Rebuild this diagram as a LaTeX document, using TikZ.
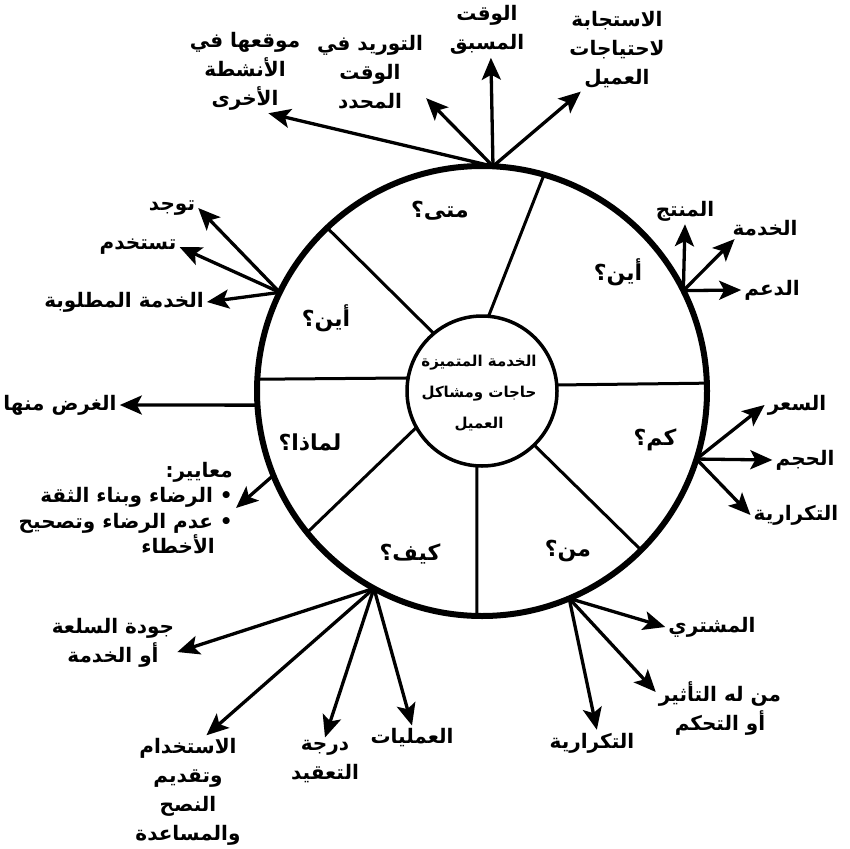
\documentclass[tikz,border=0pt]{standalone}
\usepackage{fontspec}
\usetikzlibrary{arrows.meta}
\newfontfamily\arabicfont[Script=Arabic]{DejaVu Sans}
\TeXXeTstate=1
\newcommand{\arline}[1]{\beginR #1\endR}

\begin{document}
\begin{tikzpicture}[x=1pt, y=-1pt,
    fletxa/.style={line width=3.3pt, -{Stealth[length=22pt, width=19pt, inset=5pt]}},
    etiq/.style={font=\arabicfont\bfseries\fontsize{20}{29}\selectfont, align=center, inner sep=3pt},
    pregunta/.style={font=\arabicfont\bfseries\fontsize{22}{24}\selectfont, inner sep=1pt}]
    \useasboundingbox (0,0) rectangle (850,848);
    % Cercles i radis
    \coordinate (c) at (482,391);
    \draw[line width=6pt] (c) circle[radius=225];
    \draw[line width=3.5pt] (c) circle[radius=75];
    \begin{scope}[shift={(c)}, line width=3pt]
        \draw (-85:75) -- (-74:225);
        \draw (-130:75) -- (-133.5:225);
        \draw (-170:75) -- (-177:225);
        \draw (-4.6:75) -- (-2:225);
        \draw (151:75) -- (141:225);
        \draw (94:75) -- (91.3:225);
        \draw (46:75) -- (45:225);
        % punts de sortida de les fletxes
        \coordinate (pMata) at (-87.2:225);
        \coordinate (pAynaR) at (-26.5:225);
        \coordinate (pKam) at (17.6:225);
        \coordinate (pMan) at (67.2:225);
        \coordinate (pKayfa) at (118.7:225);
        \coordinate (pLimadhaB) at (158:225);
        \coordinate (pLimadhaA) at (176.4:225);
        \coordinate (pAynaL) at (-154:225);
    \end{scope}

    % Centre i sectors
    \node[etiq, font=\arabicfont\bfseries\fontsize{15}{31}\selectfont] (centre) at (479,393)
        {\arline{الخدمة المتميزة}\\\arline{حاجات ومشاكل}\\\arline{العميل}};
    \node[pregunta] (sMata) at (440,211) {\arline{متى؟}};
    \node[pregunta] (sAynaR) at (618,272) {\arline{أين؟}};
    \node[pregunta] (sAynaL) at (326,318) {\arline{أين؟}};
    \node[pregunta] (sLimadha) at (310,442) {\arline{لماذا؟}};
    \node[pregunta] (sKayfa) at (410,554) {\arline{كيف؟}};
    \node[pregunta] (sMan) at (568,551) {\arline{من؟}};
    \node[pregunta] (sKam) at (655,440) {\arline{كم؟}};

    % Etiquetes exteriors
    \node[etiq] (tMawqi) at (245,71) {\arline{موقعها في}\\\arline{الأنشطة}\\\arline{الأخرى}};
    \node[etiq] (tTawrid) at (370,72) {\arline{التوريد في}\\\arline{الوقت}\\\arline{المحدد}};
    \node[etiq] (tMusbaq) at (487,30) {\arline{الوقت}\\\arline{المسبق}};
    \node[etiq] (tIstijaba) at (617,50) {\arline{الاستجابة}\\\arline{لاحتياجات}\\\arline{العميل}};
    \node[etiq] (tMuntaj) at (685,211) {\arline{المنتج}};
    \node[etiq] (tKhidma) at (765,228) {\arline{الخدمة}};
    \node[etiq] (tDaam) at (772,290) {\arline{الدعم}};
    \node[etiq] (tSiar) at (797,405) {\arline{السعر}};
    \node[etiq] (tHajm) at (805,460) {\arline{الحجم}};
    \node[etiq] (tTikrar) at (796,515) {\arline{التكرارية}};
    \node[etiq] (tMushtari) at (712,627) {\arline{المشتري}};
    \node[etiq] (tTathir) at (720,708) {\arline{من له التأثير}\\\arline{أو التحكم}};
    \node[etiq] (tTikrarB) at (592,743) {\arline{التكرارية}};
    \node[etiq] (tAmaliyat) at (412,738) {\arline{العمليات}};
    \node[etiq] (tDaraja) at (325,762) {\arline{درجة}\\\arline{التعقيد}};
    \node[etiq] (tIstikhdam) at (188,792) {\arline{الاستخدام}\\\arline{وتقديم}\\\arline{النصح}\\\arline{والمساعدة}};
    \node[etiq] (tJawda) at (113,643) {\arline{جودة السلعة}\\\arline{أو الخدمة}};
    \node[etiq, align=right, anchor=east, font=\arabicfont\bfseries\fontsize{20}{25.5}\selectfont] (tMaayir) at (236,508)
        {\arline{معايير:}\\\arline{• الرضاء وبناء الثقة}\\\arline{• عدم الرضاء وتصحيح}\\\arline{\hspace{18pt}الأخطاء}};
    \node[etiq] (tGharad) at (60,405) {\arline{الغرض منها}};
    \node[etiq] (tMatluba) at (124,302) {\arline{الخدمة المطلوبة}};
    \node[etiq] (tTastakhdim) at (138,247) {\arline{تستخدم}};
    \node[etiq] (tTujad) at (172,208) {\arline{توجد}};

    % Fletxes
    \draw[fletxa] (pMata) -- (tMawqi.-61);
    \draw[fletxa] (pMata) -- (tTawrid.-25);
    \draw[fletxa] (pMata) -- (tMusbaq.-82);
    \draw[fletxa] (pMata) -- (tIstijaba.-131);
    \draw[fletxa] (pAynaR) -- (tMuntaj.south);
    \draw[fletxa] (pAynaR) -- (tKhidma.200);
    \draw[fletxa] (pAynaR) -- (tDaam.west);
    \draw[fletxa] (pKam) -- (tSiar.west);
    \draw[fletxa] (pKam) -- (tHajm.west);
    \draw[fletxa] (pKam) -- (tTikrar.west);
    \draw[fletxa] (pMan) -- (tMushtari.west);
    \draw[fletxa] (pMan) -- (tTathir.166);
    \draw[fletxa] (pMan) -- (tTikrarB.70);
    \draw[fletxa] (pKayfa) -- (tAmaliyat.north);
    \draw[fletxa] (pKayfa) -- (tDaraja.north);
    \draw[fletxa] (pKayfa) -- (tIstikhdam.72);
    \draw[fletxa] (pKayfa) -- (tJawda.-8);
    \draw[fletxa] (pLimadhaB) -- (tMaayir.east);
    \draw[fletxa] (pLimadhaA) -- (tGharad.east);
    \draw[fletxa] (pAynaL) -- (tMatluba.east);
    \draw[fletxa] (pAynaL) -- (tTastakhdim.east);
    \draw[fletxa] (pAynaL) -- (tTujad.east);
\end{tikzpicture}
\end{document}
